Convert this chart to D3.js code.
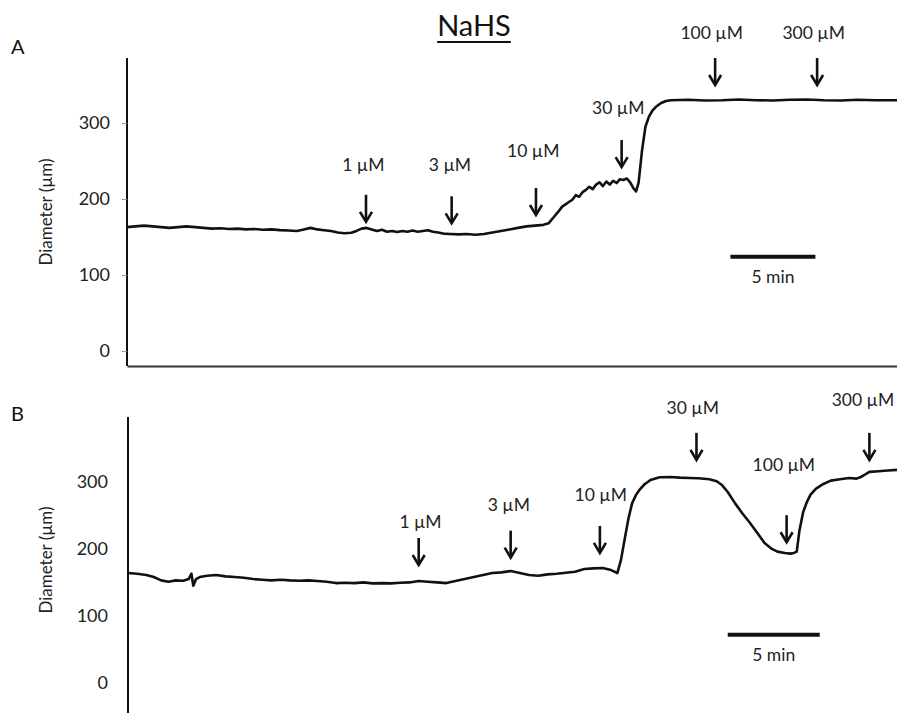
<!DOCTYPE html>
<html>
<head>
<meta charset="utf-8">
<script src="https://cdn.jsdelivr.net/npm/d3@7"></script>
<style>
  html, body { margin: 0; padding: 0; background: #fff; }
  svg { display: block; font-family: Lato, "Open Sans", sans-serif; }
</style>
</head>
<body>
<svg id="chart" width="897" height="713"></svg>
<script>
// ---------------- DATA ----------------
const title = "NaHS";
const yTicks = [0, 100, 200, 300];
const yLabel = "Diameter (µm)";
const scaleBarLabel = "5 min";
const scaleBarMinutes = 5;

// Panel A trace: [time (min), diameter (µm)]
const traceA = [
  [0.0,163],[0.5,164],[1.0,165],[1.5,164],[2.0,163],[2.5,162],[3.0,163],[3.5,164],[4.0,163],
  [4.5,162],[5.0,161],[5.5,161.5],[6.0,160.5],[6.5,161],[7.0,160],[7.5,160.5],[8.0,159.5],
  [8.5,160],[9.0,159],[9.5,158.5],[10.0,158],[10.4,160],[10.8,162],[11.2,160],[11.6,159],
  [12.0,158],[12.4,156],[12.8,155],[13.2,155.5],[13.5,158],[13.8,161],[14.1,162],[14.4,160],
  [14.7,158],[15.0,159.5],[15.3,157],[15.6,158],[15.9,156.5],[16.2,158],[16.5,157],[16.8,158.5],
  [17.1,157],[17.4,158],[17.7,159],[18.0,157],[18.3,156],[18.6,154.5],[19.0,154],[19.5,153.5],
  [20.0,154],[20.5,153],[21.0,154],[21.5,156],[22.0,158],[22.5,160],[23.0,162],[23.5,164],
  [24.0,165],[24.5,166],[24.8,168],[25.1,176],[25.4,184],[25.6,190],[25.8,193],[26.0,196],
  [26.2,199],[26.4,205],[26.6,203],[26.8,209],[27.0,212],[27.2,216],[27.4,213],[27.6,219],
  [27.8,222],[28.0,217],[28.2,223],[28.4,219],[28.6,224],[28.8,221],[29.0,226],[29.2,225],
  [29.4,227],[29.6,222],[29.8,214],[29.95,210],[30.1,222],[30.3,264],[30.5,295],[30.7,308],
  [30.9,316],[31.1,321],[31.4,326],[31.7,329],[32.0,330],[33.0,330.5],[34.0,329.5],[35.0,330],
  [36.0,331],[37.0,330],[38.0,329.5],[39.0,330.5],[40.0,331],[41.0,330],[42.0,329.5],
  [43.0,330.5],[44.0,330],[45.3,330]
];

// Panel B trace: [time (min), diameter (µm)]
const traceB = [
  [0.0,164],[0.5,163],[1.0,161],[1.4,158],[1.8,153],[2.2,151],[2.6,153],[3.0,152.5],[3.3,155],
  [3.45,163],[3.55,145],[3.7,155],[3.9,158],[4.3,160],[4.8,161],[5.3,159],[5.8,158],[6.3,157],
  [6.8,155],[7.3,154],[7.8,153],[8.3,154],[8.8,153],[9.3,152.5],[9.8,153],[10.3,152],[10.8,151],
  [11.3,149],[11.8,149.5],[12.3,149],[12.8,150],[13.3,148.5],[13.8,149],[14.3,148.5],[14.8,149.5],
  [15.3,150],[15.8,152],[16.3,151],[16.8,150],[17.3,149],[17.8,152],[18.3,155],[18.8,158],
  [19.3,161],[19.8,164],[20.3,165],[20.8,167],[21.3,164],[21.8,161],[22.3,160],[22.8,162],
  [23.3,163],[23.8,164.5],[24.3,166],[24.8,170],[25.3,171],[25.8,171.5],[26.2,169],[26.6,164],
  [26.8,184],[27.0,215],[27.2,245],[27.4,268],[27.6,280],[27.8,288],[28.1,297],[28.4,303],
  [28.9,307],[29.5,307.5],[30.0,306.5],[30.5,306],[31.0,305.5],[31.6,304],[32.0,301],[32.3,295],
  [32.6,285],[33.0,268],[33.4,253],[33.8,239],[34.2,224],[34.6,209],[35.0,200],[35.3,196],
  [35.7,194],[36.0,193],[36.2,194],[36.35,196],[36.5,228],[36.7,255],[36.9,270],[37.1,281],
  [37.4,290],[37.8,297],[38.2,302],[38.7,304],[39.2,306],[39.6,305],[39.8,307],[40.0,310],
  [40.3,315],[40.8,316],[41.3,317],[41.8,318]
];

// Dose annotations
const doseLabels = ["1 µM", "3 µM", "10 µM", "30 µM", "100 µM", "300 µM"];
const doseTimesA = [14.06, 19.1, 24.06, 29.1, 34.6, 40.6];
const arrowTipA  = [170, 168, 179, 242, 350, 350];
const labelTimeA = [13.9, 19.0, 23.9, 28.9, 34.4, 40.4];
const labelLevelA = [237, 237, 255, 312, 410, 410];

const doseTimesB = [15.8, 20.8, 25.65, 30.9, 35.8, 40.3];
const arrowTipB  = [176, 187, 194, 333, 210, 333];
const labelTimeB = [15.9, 20.7, 25.7, 30.7, 35.65, 39.95];
const labelLevelB = [231, 257, 272, 401, 316, 413];

// scale bars: start time, level, label level
const scaleBarA = {start: 35.5, level: 124, labelLevel: 89};
const scaleBarB = {start: 32.6, level: 72, labelLevel: 33};

// ---------------- DRAW ----------------
const svg = d3.select("#chart");

const panels = [
  {
    letter: "A", trace: traceA, tDomain: [0, 45.3], xRange: [127, 897],
    yDomain: [-19.7, 385.5], yRange: [366, 58], ticks: true, xAxis: true,
    doseT: doseTimesA, tip: arrowTipA, lt: labelTimeA, ll: labelLevelA, bar: scaleBarA,
    letterPos: [11, 54], yLabelPos: [52, 212]
  },
  {
    letter: "B", trace: traceB, tDomain: [0, 41.8], xRange: [128, 897],
    yDomain: [-45, 397], yRange: [713, 417], ticks: false, xAxis: false,
    doseT: doseTimesB, tip: arrowTipB, lt: labelTimeB, ll: labelLevelB, bar: scaleBarB,
    letterPos: [11, 421], yLabelPos: [52, 560]
  }
];

// title
const titleText = svg.append("text")
  .attr("x", 474).attr("y", 36)
  .attr("text-anchor", "middle")
  .attr("font-size", 29).attr("fill", "#111")
  .text(title);
const tb = titleText.node().getBBox();
svg.append("line")
  .attr("x1", tb.x).attr("x2", tb.x + tb.width)
  .attr("y1", 42).attr("y2", 42)
  .attr("stroke", "#111").attr("stroke-width", 2);

panels.forEach(p => {
  const x = d3.scaleLinear().domain(p.tDomain).range(p.xRange);
  const y = d3.scaleLinear().domain(p.yDomain).range(p.yRange);
  const g = svg.append("g");

  // panel letter
  g.append("text").attr("x", p.letterPos[0]).attr("y", p.letterPos[1])
    .attr("font-size", 20).attr("fill", "#111").text(p.letter);

  // y axis
  const yAxis = d3.axisLeft(y).tickValues(yTicks).tickSize(p.ticks ? 5 : 0).tickPadding(p.ticks ? 12 : 20);
  const ya = g.append("g").attr("transform", `translate(${p.xRange[0]},0)`).call(yAxis);
  ya.select(".domain").attr("stroke", "#111").attr("stroke-width", 2)
    .attr("d", `M0,${p.yRange[0]}V${p.yRange[1]}`);
  ya.selectAll(".tick line").attr("stroke", "#999").attr("stroke-width", 1);
  ya.selectAll(".tick text").attr("font-size", 18).attr("fill", "#222")
    .attr("font-family", "Lato, 'Open Sans', sans-serif");

  // x axis (baseline only)
  if (p.xAxis) {
    const xAxis = d3.axisBottom(x).tickValues([]).tickSizeOuter(0);
    const xa = g.append("g").attr("transform", `translate(0,${p.yRange[0]})`).call(xAxis);
    xa.select(".domain").attr("stroke", "#333").attr("stroke-width", 2);
  }

  // y label
  g.append("text")
    .attr("transform", `translate(${p.yLabelPos[0]},${p.yLabelPos[1]}) rotate(-90)`)
    .attr("text-anchor", "middle").attr("font-size", 17).attr("fill", "#222")
    .text(yLabel);

  // trace
  const line = d3.line().x(d => x(d[0])).y(d => y(d[1])).curve(d3.curveLinear);
  g.append("path").datum(p.trace)
    .attr("d", line).attr("fill", "none")
    .attr("stroke", "#111").attr("stroke-width", 2.6)
    .attr("stroke-linejoin", "round");

  // dose arrows
  const arrowLen = 27;
  p.doseT.forEach((t, i) => {
    const ax = x(t), ay = y(p.tip[i]);
    const ag = g.append("g").attr("stroke", "#111").attr("stroke-width", 2.6).attr("fill", "none")
      .attr("stroke-linecap", "butt");
    ag.append("line").attr("x1", ax).attr("x2", ax).attr("y1", ay - arrowLen).attr("y2", ay - 1);
    ag.append("path").attr("d", `M${ax - 6},${ay - 10}L${ax},${ay}L${ax + 6},${ay - 10}`)
      .attr("stroke-linejoin", "miter");
    g.append("text").attr("x", x(p.lt[i])).attr("y", y(p.ll[i]))
      .attr("text-anchor", "middle").attr("font-size", 17.5).attr("fill", "#222")
      .text(doseLabels[i]);
  });

  // scale bar
  g.append("line")
    .attr("x1", x(p.bar.start)).attr("x2", x(p.bar.start + scaleBarMinutes))
    .attr("y1", y(p.bar.level)).attr("y2", y(p.bar.level))
    .attr("stroke", "#111").attr("stroke-width", 4);
  g.append("text")
    .attr("x", x(p.bar.start + scaleBarMinutes / 2)).attr("y", y(p.bar.labelLevel))
    .attr("text-anchor", "middle").attr("font-size", 17.5).attr("fill", "#222")
    .text(scaleBarLabel);
});
</script>
</body>
</html>
